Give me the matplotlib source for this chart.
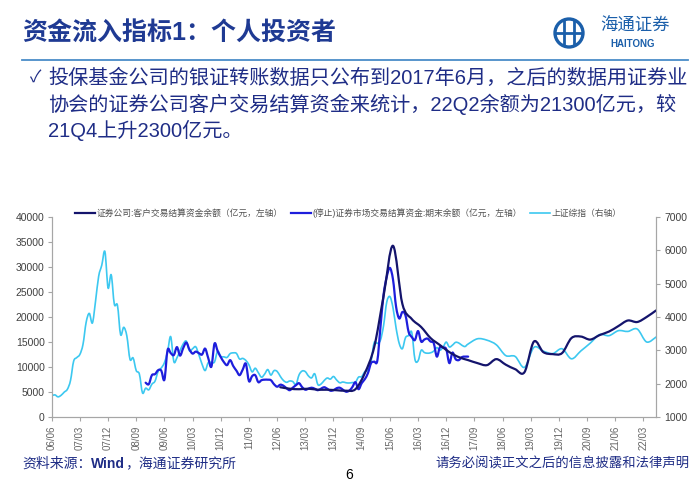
import matplotlib
matplotlib.use('Agg')
import matplotlib.pyplot as plt
import numpy as np
from matplotlib.path import Path
from matplotlib.patches import PathPatch, Circle
from matplotlib.lines import Line2D

# Fuentes: digitos en Arial-like, chino en Noto CJK
plt.rcParams['font.family'] = ['Liberation Sans', 'Noto Sans CJK SC', 'DejaVu Sans']

W, H = 700, 484
TEXT_BLUE = '#1F2D86'
NAVY = '#14146C'
BLUE = '#1E1EDC'
CYAN = '#3CC8F0'
GRID_GRAY = '#A6A6A6'

# --- datos ---
tick_labels = ['06/06', '07/03', '07/12', '08/09', '09/06', '10/03', '10/12', '11/09',
               '12/06', '13/03', '13/12', '14/09', '15/06', '16/03', '16/12', '17/09',
               '18/06', '19/03', '19/12', '20/09', '21/06', '22/03']

legend_labels = ['证券公司:客户交易结算资金余额（亿元，左轴）',
                 '(停止)证券市场交易结算资金:期末余额（亿元，左轴）',
                 '上证综指（右轴）']

# 证券公司客户交易结算资金余额, quarterly from 2012-06 (亿元)
navy_start = '2012-06'
navy_values = [6000, 5700, 5600,
               5700, 5500, 5500, 5400,
               5300, 5600, 8800, 14000,
               24200, 34200, 22600, 19600,
               18000, 15800, 14400, 13000,
               12000, 11400, 10800, 10400,
               11600, 10500, 9600, 9000,
               15100, 13000, 12600, 12800,
               15800, 16100, 15500, 16400,
               17100, 18200, 19300, 19000,
               20000, 21300]

# (停止)证券市场交易结算资金, monthly from 2008-11 to 2017-06 (亿元)
blue_start = '2008-11'
blue_values = [6900, 6600, 8400, 8600, 9400, 9300, 7500, 13400, 12800, 12400,
               14000, 12300, 13800, 14900, 13500, 12700, 13100, 12800, 12500, 13700,
               11800, 10100, 14700, 13200, 12000, 11000, 10400, 11400, 10200, 9300,
               8400, 9500, 10700, 7200, 8200, 8400, 7000, 7400, 7500, 7500,
               7400, 6600, 6100, 6500, 6300, 5800, 5400, 5900, 6400, 6800,
               6000, 5500, 5700, 5900, 5700, 5400, 5700, 6000, 5700, 5300,
               5400, 5800, 5900, 5500, 5100, 5300, 6000, 7000, 5600, 6800,
               7600, 8800, 10800, 11100, 11300, 18000, 24500, 28000, 29800, 27500,
               22000, 19700, 21000, 20300, 17000, 16000, 15400, 17200, 15100, 15500,
               15700, 15100, 14800, 12100, 14000, 13900, 13600, 10800, 12900, 11600,
               11400, 12000, 12100, 12100]

# 上证综指: monthly 2006-05 .. 2017-06, then quarterly 2017-09 .. 2022-06
sh_monthly_start = '2006-05'
sh_monthly = [1641, 1672, 1612, 1658, 1753, 1837, 2099, 2675,
              2786, 2881, 3183, 3841, 4109, 3821, 4471, 5219, 5552, 5954, 4871, 5262,
              4383, 4348, 3473, 3693, 3433, 2736, 2776, 2397, 2293, 1729, 1871, 1821,
              1991, 2082, 2373, 2477, 2633, 2959, 3413, 2667, 2779, 2996, 3195, 3277,
              2989, 3051, 3110, 2871, 2593, 2398, 2638, 2639, 2656, 2979, 2820, 2808,
              2791, 2905, 2928, 2911, 2743, 2762, 2701, 2568, 2359, 2468, 2333, 2199,
              2292, 2428, 2263, 2396, 2373, 2226, 2103, 2047, 2086, 2069, 1980, 2269,
              2385, 2366, 2237, 2178, 2301, 1979, 1994, 2098, 2175, 2142, 2221, 2116,
              2033, 2056, 2033, 2026, 2039, 2048, 2202, 2217, 2364, 2420, 2683, 3235,
              3210, 3310, 3748, 4442, 4612, 4277, 3664, 3206, 3053, 3383, 3446, 3539,
              2738, 2688, 3004, 2938, 2917, 2930, 2979, 3085, 3005, 3100, 3250, 3104,
              3159, 3242, 3223, 3155, 3117, 3192]
sh_quarterly_start = '2017-09'
sh_quarterly = [3349, 3307, 3169, 2847, 2821, 2494, 3091, 2979, 2905, 3050,
                2750, 2985, 3218, 3473, 3442, 3591, 3568, 3640, 3253, 3399]


def month_pos(ym):
    # month-end value sits at the start of the following month (0 = 2006-06)
    y, m = map(int, ym.split('-'))
    return (y - 2006) * 12 + (m - 6) + 1


def tick_pos(lbl):
    yy, mm = map(int, lbl.split('/'))
    return (2000 + yy - 2006) * 12 + (mm - 6)


def smooth_path(x, y):
    # curva suavizada tipo Excel (Catmull-Rom -> Bezier)
    x = np.asarray(x, float)
    y = np.asarray(y, float)
    n = len(x)
    verts = [(x[0], y[0])]
    codes = [Path.MOVETO]
    for i in range(n - 1):
        a = i - 1 if i > 0 else i
        d = i + 2 if i + 2 < n else i + 1
        c1 = (x[i] + (x[i + 1] - x[a]) / 6, y[i] + (y[i + 1] - y[a]) / 6)
        c2 = (x[i + 1] - (x[d] - x[i]) / 6, y[i + 1] - (y[d] - y[i]) / 6)
        verts += [c1, c2, (x[i + 1], y[i + 1])]
        codes += [Path.CURVE4] * 3
    return Path(verts, codes)


navy_x = month_pos(navy_start) + 3 * np.arange(len(navy_values))
blue_x = month_pos(blue_start) + np.arange(len(blue_values))
sh_x = np.concatenate([month_pos(sh_monthly_start) + np.arange(len(sh_monthly)),
                       month_pos(sh_quarterly_start) + 3 * np.arange(len(sh_quarterly))])
sh_y = np.array(sh_monthly + sh_quarterly)

fig = plt.figure(figsize=(W / 100, H / 100), dpi=100)
fig.patch.set_facecolor('white')

# --- capa de texto de la pagina (coordenadas en pixeles) ---
page = fig.add_axes([0, 0, 1, 1])
page.set_xlim(0, W)
page.set_ylim(H, 0)
page.axis('off')

page.text(22, 34, '资金流入指标1：个人投资者', fontsize=18, fontweight='bold',
          color='#1F3A93', va='center', ha='left')
page.plot([22, 688], [59.5, 59.5], color='#4A8CC8', lw=1.3)

# logo
page.add_patch(Circle((569, 33), 14, fill=False, ec='#1B5FAA', lw=2.4))
page.plot([564, 564], [21, 45], color='#1B5FAA', lw=2)
page.plot([574, 574], [21, 45], color='#1B5FAA', lw=2)
page.plot([556, 582], [33, 33], color='#1B5FAA', lw=2)
page.text(635, 26, '海通证券', fontsize=12.5, color='#1B5FAA', ha='center', va='center',
          fontstyle='italic')
page.text(633, 44, 'HAITONG', fontsize=7, color='#1B5FAA', ha='center', va='center',
          fontweight='bold')

page.text(30, 78, '✓', fontsize=12, color=TEXT_BLUE, ha='left', va='center')
body = ['投保基金公司的银证转账数据只公布到2017年6月，之后的数据用证券业',
        '协会的证券公司客户交易结算资金来统计，22Q2余额为21300亿元，较',
        '21Q4上升2300亿元。']
for i, line in enumerate(body):
    page.text(48, 78 + i * 26, line, fontsize=14.5, color=TEXT_BLUE, ha='left', va='center')

# fuente: "Wind" en negrita
t1 = page.text(22, 464, '资料来源：', fontsize=10, color=TEXT_BLUE, ha='left', va='center')
t2 = page.annotate('Wind', xycoords=t1, xy=(1, 0.5), va='center', ha='left',
                   fontsize=10, color=TEXT_BLUE, fontweight='bold')
page.annotate('，海通证券研究所', xycoords=t2, xy=(1, 0.5), va='center', ha='left',
              fontsize=10, color=TEXT_BLUE)
page.text(690, 464, '请务必阅读正文之后的信息披露和法律声明', fontsize=9.6, color=TEXT_BLUE,
          ha='right', va='center')
page.text(349, 475, '6', fontsize=10, color='black', ha='center', va='center')

# --- grafico ---
ax = fig.add_axes([51.7 / W, 1 - 417.3 / H, (656 - 51.7) / W, (417.3 - 216.7) / H])
ax2 = ax.twinx()
ax.set_zorder(ax2.get_zorder() + 1)
ax.patch.set_visible(False)

ax2.add_patch(PathPatch(smooth_path(sh_x, sh_y), fill=False, ec=CYAN, lw=1.2,
                        transform=ax2.transData, capstyle='round', joinstyle='round'))
ax.add_patch(PathPatch(smooth_path(blue_x, blue_values), fill=False, ec=BLUE, lw=1.6,
                       transform=ax.transData, capstyle='round', joinstyle='round'))
ax.add_patch(PathPatch(smooth_path(navy_x, navy_values), fill=False, ec=NAVY, lw=1.6,
                       transform=ax.transData, capstyle='round', joinstyle='round'))

ax.set_xlim(0, month_pos('2022-06'))
ax.set_ylim(0, 40000)
ax2.set_ylim(1000, 7000)
ax.set_yticks(np.arange(0, 40001, 5000))
ax2.set_yticks(np.arange(1000, 7001, 1000))
ax.set_xticks([tick_pos(t) for t in tick_labels])
ax.set_xticklabels(tick_labels, rotation=90)

for a in (ax, ax2):
    a.spines['top'].set_visible(False)
    for s in ('left', 'right', 'bottom'):
        a.spines[s].set_color(GRID_GRAY)
        a.spines[s].set_linewidth(0.8)
ax.tick_params(axis='y', direction='out', length=3, color=GRID_GRAY, labelsize=7.5,
               labelcolor='#404040', pad=2)
ax2.tick_params(axis='y', direction='out', length=3, color=GRID_GRAY, labelsize=7.5,
                labelcolor='#404040', pad=3)
ax.tick_params(axis='x', direction='out', length=3, color=GRID_GRAY, labelsize=7,
               labelcolor='#666666', pad=3)

handles = [Line2D([], [], color=NAVY, lw=1.6),
           Line2D([], [], color=BLUE, lw=1.6),
           Line2D([], [], color=CYAN, lw=1.2)]
leg = ax.legend(handles, legend_labels, loc='center', bbox_to_anchor=(0.491, 1.018),
                ncol=3, frameon=False, fontsize=6.3, handlelength=2.3, handletextpad=0.2,
                columnspacing=0.9, borderaxespad=0)
for t in leg.get_texts():
    t.set_color('#505050')

fig.savefig('out.png', dpi=100, facecolor='white')
